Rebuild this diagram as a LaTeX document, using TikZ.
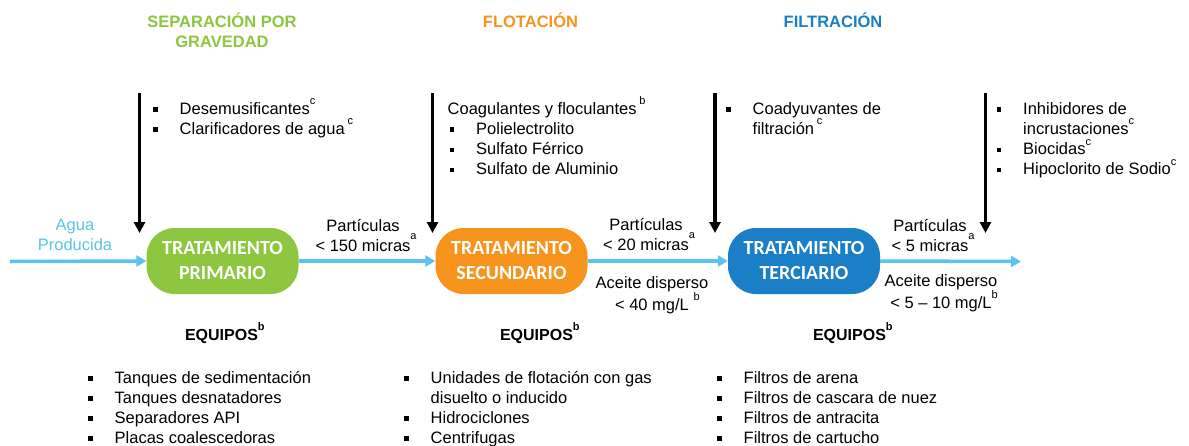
\documentclass[tikz,border=0pt]{standalone}
\usepackage{fontspec}
\setmainfont{Liberation Sans}
\newfontfamily\boxfont{Carlito}
\usetikzlibrary{arrows.meta}
\definecolor{cgreen}{HTML}{8DC63F}
\definecolor{corange}{HTML}{F7941D}
\definecolor{cblue}{HTML}{1A7FC7}
\definecolor{lblue}{HTML}{5AC4EC}
\newcommand\spx[1]{\raisebox{9.5pt}{\fontsize{11}{11}\selectfont #1}}
\newcommand\spa[1]{\raisebox{12pt}{\fontsize{11}{11}\selectfont #1}}
\newcommand\blt{\makebox[26.5pt][l]{\rule[2.5pt]{4.5pt}{4.5pt}}}
\newcommand\ind{\hspace*{26.5pt}}
\begin{document}
\begin{tikzpicture}[x=1pt,y=-1pt,
  ttl/.style={font=\fontsize{16.5}{20}\selectfont\bfseries, align=center, inner sep=0pt, anchor=base},
  lst/.style={font=\fontsize{16.5}{20.3}\selectfont, align=left, inner sep=0pt, anchor=base west},
  lbl/.style={font=\fontsize{16.5}{19.5}\selectfont, align=center, inner sep=0pt, anchor=base},
  equ/.style={font=\fontsize{16}{19}\selectfont\bfseries, inner sep=0pt, anchor=base},
  tbox/.style={rounded corners=28pt, minimum width=152pt, minimum height=66pt, text=white,
    font=\boxfont\bfseries\fontsize{20}{25}\selectfont, align=center, inner sep=0pt},
  flow/.style={draw=lblue, line width=3.5pt, -{Triangle[width=11pt,length=10pt]}},
  feed/.style={draw=black, line width=3.5pt, -{Triangle[width=11pt,length=11pt]}}]
\useasboundingbox[fill=white] (0,0) rectangle (1189,445);

% titles (anchor = baseline of the last line)
\node[ttl, text=cgreen] (t1) at (222,47) {SEPARACIÓN POR\\GRAVEDAD};
\node[ttl, text=corange] (t2) at (530.5,27) {FLOTACIÓN};
\node[ttl, text=cblue] (t3) at (833,27) {FILTRACIÓN};

% treatment boxes
\node[tbox, fill=cgreen] (b1) at (222.5,261) {TRATAMIENTO\\PRIMARIO};
\node[tbox, fill=corange] (b2) at (511.5,261) {TRATAMIENTO\\SECUNDARIO};
\node[tbox, fill=cblue] (b3) at (804,261) {TRATAMIENTO\\TERCIARIO};

% flow line
\coordinate (src) at (10,261.5);
\coordinate (dst) at (1021,261.5);
\draw[flow] (src) -- (b1.west);
\draw[flow] (b1.east) -- (b2.west);
\draw[flow] (b2.east) -- (b3.west);
\draw[flow] (b3.east) -- (dst);

% chemical feed arrows
\coordinate (f1a) at (139.5,93); \coordinate (f1b) at (139.5,233);
\coordinate (f2a) at (432.5,93); \coordinate (f2b) at (432.5,233);
\coordinate (f3a) at (715,93);   \coordinate (f3b) at (715,233);
\coordinate (f4a) at (985.5,93); \coordinate (f4b) at (985.5,233);
\draw[feed] (f1a) -- (f1b);
\draw[feed] (f2a) -- (f2b);
\draw[feed] (f3a) -- (f3b);
\draw[feed] (f4a) -- (f4b);

% chemical lists
\node[lst] (c1) at (153,134.3) {\blt Desemusificantes\spx{c}\\\blt Clarificadores de agua\,\spx{c}};
\node[lst] (c2) at (447.5,174.9) {Coagulantes y floculantes\,\spx{b}\\\hspace*{2pt}\blt Polielectrolito\\\hspace*{2pt}\blt Sulfato Férrico\\\hspace*{2pt}\blt Sulfato de Aluminio};
\node[lst] (c3) at (726,134.3) {\blt Coadyuvantes de\\\ind filtración\,\spx{c}};
\node[lst] (c4) at (996.5,174.9) {\blt Inhibidores de\\\ind incrustaciones\spx{c}\\\blt Biocidas\spx{c}\\\blt Hipoclorito de Sodio\spx{c}};

% stream labels
\node[lbl, text=lblue, font=\fontsize{16.5}{20}\selectfont] (agua) at (75,250) {Agua\\Producida};
\node[lbl] (p1) at (363,251) {Partículas\\< 150 micras\rlap{\spa{a}}};
\node[lbl] (p2) at (646,250) {Partículas\\< 20 micras\rlap{\spa{a}}};
\node[lbl] (p3) at (930,251) {Partículas\\< 5 micras\rlap{\spa{a}}};
\node[lbl, font=\fontsize{16.5}{20}\selectfont] (o2) at (652,310) {Aceite disperso\\< 40 mg/L\rlap{ \spx{b}}};
\node[lbl, font=\fontsize{16.5}{20}\selectfont] (o3) at (941,308) {Aceite disperso\\< 5 – 10 mg/L\rlap{\spx{b}}};

% equipment
\node[equ] (e1) at (221.5,340) {EQUIPOS\rlap{\spx{b}}};
\node[equ] (e2) at (536.5,340) {EQUIPOS\rlap{\spx{b}}};
\node[equ] (e3) at (849.5,340) {EQUIPOS\rlap{\spx{b}}};

\node[lst, font=\fontsize{16.5}{20}\selectfont] (q1) at (88,443) {\blt Tanques de sedimentación\\\blt Tanques desnatadores\\\blt Separadores API\\\blt Placas coalescedoras};
\node[lst, font=\fontsize{16.5}{20}\selectfont] (q2) at (404,443) {\blt Unidades de flotación con gas\\\ind disuelto o inducido\\\blt Hidrociclones\\\blt Centrifugas};
\node[lst, font=\fontsize{16.5}{20}\selectfont] (q3) at (717,443) {\blt Filtros de arena\\\blt Filtros de cascara de nuez\\\blt Filtros de antracita\\\blt Filtros de cartucho};
\end{tikzpicture}
\end{document}
